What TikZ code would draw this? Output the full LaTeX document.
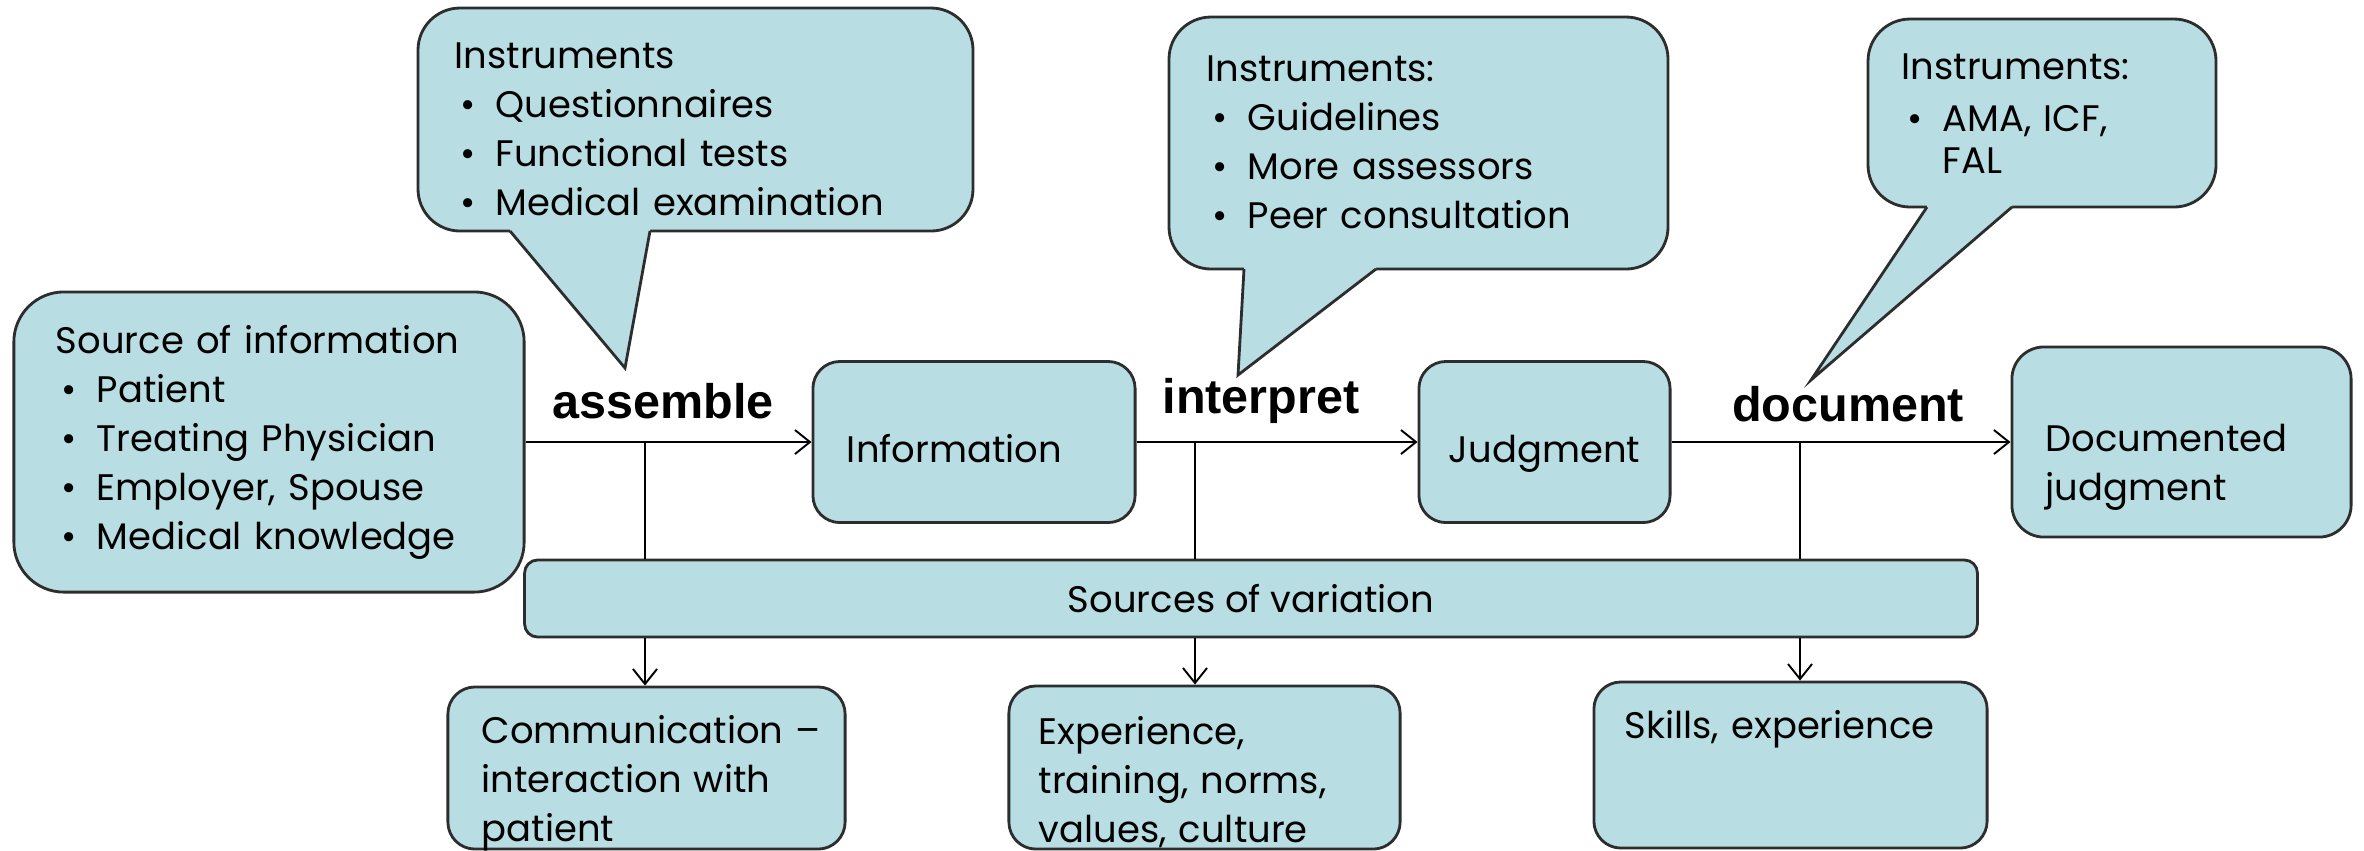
\documentclass[tikz,border=0pt]{standalone}
\usepackage{fontspec}
\setmainfont{Poppins}
\newfontfamily\lblfont{Liberation Sans}
\usetikzlibrary{arrows.meta}

\definecolor{boxfill}{RGB}{184,221,226}
\definecolor{boxline}{RGB}{45,45,45}

\newcommand{\bodyfont}{\fontsize{10.5pt}{13.94pt}\selectfont}
\newcommand{\bul}{\makebox[0.41cm][l]{\hspace{0.06cm}\textbullet}}

\tikzset{
  box/.style={draw=boxline, fill=boxfill, line width=0.8pt, rounded corners=0.27cm,
    inner sep=0pt, font=\bodyfont},
  bubble/.style={draw=boxline, fill=boxfill, line width=0.8pt, rounded corners=0.42cm},
  txt/.style={anchor=base west, inner sep=0pt, text width=6cm, align=left, font=\bodyfont},
  actlbl/.style={font=\lblfont\bfseries\fontsize{13.8pt}{16pt}\selectfont, inner sep=0pt},
  conn/.style={draw=black, line width=0.55pt},
  arr/.style={-{Straight Barb[length=0.15cm, width=0.24cm]}}
}

\begin{document}
\begin{tikzpicture}[x=0.01cm, y=-0.01cm]
\useasboundingbox (0,0) rectangle (2364,850);
\clip (0,0) rectangle (2364,850);

% Instrument callouts (box, then tail)
\foreach \lx/\ty/\rx/\by/\px/\qx/\tipx/\tipy in {418/8/973/231/510/650/625/368,
    1169/17/1668/269/1244/1376/1238/375, 1868/19/2216/207/1927/2012/1811/380} {
  \draw[bubble] (\lx,\ty) rectangle (\rx,\by);
  \fill[boxfill] (\px,\by-8) -- (\px,\by) -- (\tipx,\tipy) -- (\qx,\by) -- (\qx,\by-8) -- cycle;
  \draw[boxline, line width=0.8pt] (\px,\by) -- (\tipx,\tipy) -- (\qx,\by);
}
\node[txt] (insA) at (454,68) {Instruments\\ \bul Questionnaires\\ \bul Functional tests\\ \bul Medical examination};
\node[txt] (insB) at (1206,81) {Instruments:\\ \bul Guidelines\\ \bul More assessors\\ \bul Peer consultation};
\node[txt] (insC) at (1901,79) {Instruments:\\[0.9pt] \bul AMA, ICF,\\[-2pt] \hspace*{0.41cm}FAL};

% Main flow
\node[box, rounded corners=0.5cm, minimum width=5.1cm, minimum height=3cm, text width=4.26cm,
  inner xsep=0.42cm, align=left] (src) at (269,442)
  {Source of information\\ \bul Patient\\ \bul Treating Physician\\ \bul Employer, Spouse\\ \bul Medical knowledge};
\node[box, minimum width=3.22cm, minimum height=1.61cm, text width=2.54cm, inner xsep=0.34cm,
  align=left, text height=14pt, text depth=2.6pt] (info) at (974,442) {Information};
\node[box, minimum width=2.51cm, minimum height=1.61cm, text height=14pt, text depth=2.6pt] (judg) at (1544.5,442) {Judgment};
\node[box, rounded corners=0.32cm, minimum width=3.39cm, minimum height=1.9cm] (docj) at (2181.5,442) {};
\node[txt] (docjt) at (2045,451) {Documented\\judgment};

\node[actlbl] (asm) at (663,401) {assemble};
\node[actlbl] (itp) at (1261,401) {interpret};
\node[actlbl] (dcm) at (1848,404) {document};

\draw[conn, arr] (src.east) -- (info.west);
\draw[conn, arr] (info.east) -- (judg.west);
\draw[conn, arr] (judg.east) -- (docj.west);

% Sources of variation
\node[box, rounded corners=0.13cm, minimum width=14.52cm, minimum height=0.77cm] (var) at (1251,598.5) {Sources of variation};

\node[box, minimum width=3.97cm, minimum height=1.62cm] (comm) at (646.5,768) {};
\node[box, minimum width=3.91cm, minimum height=1.63cm] (expr) at (1204.5,767.5) {};
\node[box, minimum width=3.93cm, minimum height=1.66cm] (skil) at (1790.5,765) {};
\node[txt] (commt) at (481,743) {Communication –\\interaction with\\patient};
\node[txt] (exprt) at (1038,744) {Experience,\\training, norms,\\values, culture};
\node[txt] (skilt) at (1624,738) {Skills, experience};

\coordinate (ja) at (645,442);
\coordinate (jb) at (1195,442);
\coordinate (jc) at (1800,442);
\foreach \j/\bx in {ja/comm, jb/expr, jc/skil} {
  \draw[conn] (\j) -- (\j |- var.north);
  \draw[conn, arr] (\j |- var.south) -- (\j |- \bx.north);
}

\end{tikzpicture}
\end{document}
